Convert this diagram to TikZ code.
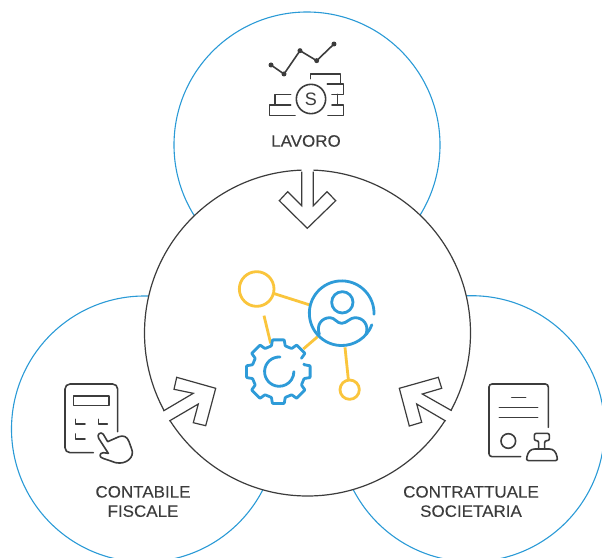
\documentclass[tikz,border=0pt]{standalone}
\usepackage{fontspec}
\usetikzlibrary{calc}
\setmainfont[FakeStretch=1.03,FakeBold=0.15]{Liberation Sans}
\newfontfamily\coinfont{Liberation Sans}
\definecolor{ringblue}{HTML}{2A9AD6}
\definecolor{iconblue}{HTML}{2E9BD8}
\definecolor{iconyellow}{HTML}{FAC53C}
\definecolor{ink}{HTML}{3C3C3C}
\tikzset{
  ring/.style={draw=ringblue,line width=1.1pt},
  hub/.style={draw=ink,line width=1.2pt,fill=white},
  icon/.style={draw=ink,line width=1.6pt,line cap=round,line join=round},
  blueicon/.style={draw=iconblue,line width=2.8pt,line cap=round,line join=round},
  yellowicon/.style={draw=iconyellow,line width=2.8pt,line cap=round,line join=round},
  arrowline/.style={draw=ink,line width=1.2pt,line join=miter},
  caption/.style={text=ink,font=\fontsize{16.5}{19.3}\selectfont,align=center,inner sep=0pt},
  zoomA/.style={shift={(250,30)},x=0.3333pt,y=-0.3333pt},
  zoomB/.style={shift={(225,260)},x=0.3333pt,y=-0.3333pt},
  zoomC/.style={shift={(50,370)},x=0.3333pt,y=-0.3333pt},
  zoomD/.style={shift={(390,370)},x=0.3333pt,y=-0.3333pt},
  zoomE/.style={shift={(300,275)},x=0.3333pt,y=-0.3333pt},
  zoomF/.style={shift={(95,425)},x=0.3333pt,y=-0.3333pt},
  zoomG/.style={shift={(520,425)},x=0.3333pt,y=-0.3333pt}
}
\begin{document}
\begin{tikzpicture}[x=1pt,y=-1pt]
\useasboundingbox (0,0) rectangle (602,557);
\clip (0,0) rectangle (602,557);
% outer rings
\draw[ring] (307,145) circle (133);
\draw[ring] (144.5,429) circle (133);
\draw[ring] (471.5,428.7) circle (133);
% hub
\draw[hub] (307.5,333) circle (163);
% arrows
\fill[white] (301.7,164) -- (301.7,205.7) -- (287.7,191.7) -- (279.3,200.7) -- (307.3,228.3) -- (335.7,200.7) -- (327,191.7) -- (313.3,205.7) -- (313.3,164) -- cycle;
\draw[arrowline] (301.7,171.5) -- (301.7,205.7) -- (287.7,191.7) -- (279.3,200.7) -- (307.3,228.3) -- (335.7,200.7) -- (327,191.7) -- (313.3,205.7) -- (313.3,171.5);
\fill[white] (158,414) -- (163.3,411) -- (193.3,393.3) -- (174,389.3) -- (176.7,377.3) -- (215.7,388.3) -- (205.7,425.7) -- (193.3,422.7) -- (198.3,404) -- (169.3,421) -- (164,424) -- cycle;
\draw[arrowline] (163.3,411) -- (193.3,393.3) -- (174,389.3) -- (176.7,377.3) -- (215.7,388.3) -- (205.7,425.7) -- (193.3,422.7) -- (198.3,404) -- (169.3,421);
\fill[white] (457,413.7) -- (451.7,410.7) -- (422.3,394) -- (441.7,388.3) -- (438.3,377.3) -- (399.3,388.3) -- (409.3,426) -- (421.7,422.3) -- (416.7,404) -- (445.7,421) -- (451,424) -- cycle;
\draw[arrowline] (451.7,410.7) -- (422.3,394) -- (441.7,388.3) -- (438.3,377.3) -- (399.3,388.3) -- (409.3,426) -- (421.7,422.3) -- (416.7,404) -- (445.7,421);
% captions
\node[caption] (lavoro) at (306,141) {LAVORO};
\node[caption] (contabile) at (143,501.5) {CONTABILE\\FISCALE};
\node[caption] (contrattuale) at (471,501.5) {CONTRATTUALE\\SOCIETARIA};
% chart and coins
\begin{scope}[zoomA]
  \draw[icon] (63,105) -- (102,132) -- (150,62) -- (200,92) -- (252,42);
  \foreach \px/\py in {63/105,102/132,150/62,200/92,252/42}
    \fill[ink] (\px,\py) circle (7.5);
  \draw[icon] (183,207) circle (44);
  \node[text=ink,font=\coinfont\fontsize{18}{18}\selectfont,inner sep=0pt] (dollar) at (183,207) {S};
  \draw[icon] (122,193) -- (75,193) -- (75,225) -- (58,225) -- (58,257) -- (135,257);
  \draw[icon] (75,225) -- (122,225);
  \draw[icon] (182,146) -- (182,132) -- (272,132) -- (272,162);
  \draw[icon] (232,162) -- (280,162) -- (280,193) -- (246,193);
  \draw[icon] (262,193) -- (262,225);
  \draw[icon] (246,225) -- (280,225) -- (280,257) -- (234,257);
\end{scope}
% central icon
\begin{scope}[zoomB]
  \draw[yellowicon] (95,87) circle (52);
  \draw[yellowicon,line cap=butt] (148,101) -- (255,135);
  \draw[yellowicon,line cap=butt] (117,167) -- (137,250);
  \draw[yellowicon,line cap=butt] (235,267) -- (278,230);
  \draw[yellowicon,line cap=butt] (360,262) -- (370,358);
  \draw[yellowicon] (374,389) circle (29);
  \draw[blueicon] (165,291) arc[start angle=-87,end angle=-360,radius=44];
  \draw[blueicon,rounded corners=0.6pt] ($(160,335)+(-15:80)$)
    foreach \a in {0,45,...,315} {
      -- ($(160,335)+(\a-15:80)$) -- ($(160,335)+(\a-10.5:97)$) -- ($(160,335)+(\a+10.5:97)$) -- ($(160,335)+(\a+15:80)$)
    };
\end{scope}
\begin{scope}[zoomE]
  \draw[blueicon] (222,118) arc[start angle=2,end angle=-339,radius=97];
  \draw[blueicon] (127,82) circle (32);
  \draw[blueicon] (58,178) .. controls (48,150) and (65,128) .. (90,128)
     .. controls (105,128) and (110,145) .. (125,145)
     .. controls (140,145) and (150,128) .. (165,128)
     .. controls (190,128) and (208,150) .. (198,178);
\end{scope}
% calculator
\begin{scope}[zoomC]
  \draw[icon,rounded corners=5pt] (203,185) -- (203,42) -- (45,42) -- (45,248) -- (130,248);
  \draw[icon] (70,78) rectangle (177,107);
  \draw[icon] (77,148) -- (77,162) -- (105,162);
  \draw[icon] (145,148) -- (145,162) -- (172,162);
  \draw[icon] (77,192) -- (77,207) -- (105,207);
\end{scope}
\begin{scope}[zoomF]
  \draw[icon] (38,50) -- (25,28) .. controls (18,18) and (4,28) .. (11,40)
    -- (40,85) -- (25,83) .. controls (12,83) and (12,98) .. (24,100)
    -- (62,113) .. controls (95,120) and (120,95) .. (110,72)
    -- (102,50) .. controls (97,35) and (85,30) .. (72,35) -- cycle;
\end{scope}
% contract
\begin{scope}[zoomD]
  \draw[icon,rounded corners=3pt] (475,172) -- (475,42) -- (297,42) -- (297,260) -- (392,260);
  \draw[icon] (365,83) -- (407,83);
  \draw[icon] (328,113) -- (443,113);
  \draw[icon] (328,142) -- (443,142);
  \draw[icon] (355,213) circle (22);
\end{scope}
\begin{scope}[zoomG]
  \draw[icon] (25,107) -- (107,107) .. controls (113,107) and (113,102) .. (111,95)
    .. controls (108,80) and (100,72) .. (88,72) -- (45,72)
    .. controls (32,72) and (24,80) .. (21,95) .. controls (19,102) and (19,107) .. (25,107) -- cycle;
  \draw[icon,rounded corners=2pt] (56,72) -- (56,47) -- (43,47) -- (43,25) -- (88,25) -- (88,47) -- (74,47) -- (74,72);
\end{scope}
\end{tikzpicture}
\end{document}
